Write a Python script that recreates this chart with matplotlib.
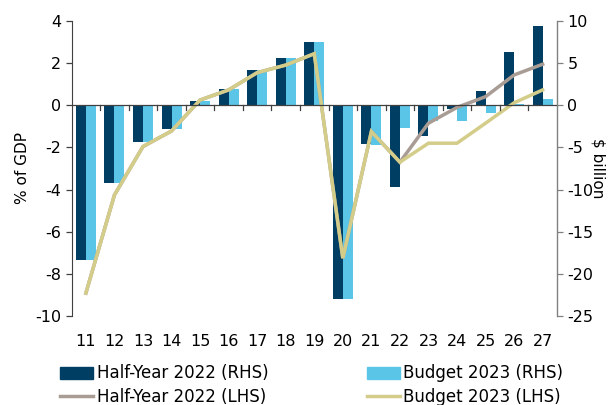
import matplotlib
matplotlib.use("Agg")
import matplotlib.pyplot as plt
import numpy as np
from matplotlib.patches import Patch
from matplotlib.lines import Line2D

years = ["11", "12", "13", "14", "15", "16", "17", "18", "19", "20",
         "21", "22", "23", "24", "25", "26", "27"]
# $ billion (RHS)
hy22_bar = [-18.4, -9.2, -4.4, -2.8, 0.5, 1.9, 4.15, 5.6, 7.5, -23.0,
            -4.6, -9.7, -3.6, -0.45, 1.7, 6.3, 9.4]
b23_bar = [-18.4, -9.2, -4.4, -2.8, 0.5, 1.9, 4.15, 5.6, 7.5, -23.0,
           -4.7, -2.65, -1.9, -1.85, -0.9, 0.15, 0.7]
# % of GDP (LHS)
hy22_line = [-8.92, -4.26, -1.96, -1.22, 0.25, 0.73, 1.55, 1.91, 2.45, -7.26,
             -1.25, -2.7, -0.85, -0.1, 0.41, 1.44, 1.95]
b23_line = [-8.92, -4.26, -1.96, -1.22, 0.25, 0.73, 1.55, 1.91, 2.45, -7.26,
            -1.25, -2.7, -1.8, -1.8, -0.85, 0.12, 0.73]

c_dark = "#003F63"
c_light = "#5BC5E8"
c_hyl = "#A89C94"
c_bl = "#D4CD8A"

plt.rcParams['font.family'] = ['DejaVu Sans']
plt.rcParams['axes.unicode_minus'] = False
fig = plt.figure(figsize=(6.12, 4.05), dpi=100)
ax = fig.add_axes([0.117, 0.220, 0.793, 0.728])
ax2 = ax.twinx()

x = np.arange(len(years))
w = 0.35
ax2.bar(x - w/2, hy22_bar, width=w, color=c_dark, zorder=2)
ax2.bar(x + w/2, b23_bar, width=w, color=c_light, zorder=2)

ax.plot(x, hy22_line, color=c_hyl, lw=2.5, zorder=3, solid_joinstyle='miter')
ax.plot(x, b23_line, color=c_bl, lw=2.5, zorder=4, solid_joinstyle='miter')

ax.set_zorder(ax2.get_zorder() + 1)
ax.patch.set_visible(False)

ax.set_xlim(-0.5, len(years) - 0.5)
ax.set_ylim(-10, 4)
ax2.set_ylim(-25, 10)
ax.set_yticks(np.arange(-10, 5, 2))
ax2.set_yticks(np.arange(-25, 11, 5))

# zero line with ticks between categories
ax.axhline(0, color="#404040", lw=0.9, zorder=5)
for b in np.arange(0.5, len(years) - 0.5, 1):
    ax.plot([b, b], [0, -0.2], color="#404040", lw=0.9, zorder=5)

ax.set_xticks(x)
ax.set_xticklabels(years)
ax.tick_params(axis='x', length=0, labelsize=11.5, pad=13)
ax.tick_params(axis='y', labelsize=11.5, color="#404040", length=4, width=0.9)
ax2.tick_params(axis='y', labelsize=11.5, color="#808080", length=4, width=0.9)

for s in ["top", "right", "bottom"]:
    ax.spines[s].set_visible(False)
for s in ["top", "left", "bottom"]:
    ax2.spines[s].set_visible(False)
ax.spines["left"].set_color("#404040")
ax2.spines["right"].set_color("#808080")
ax2.spines["right"].set_linewidth(1.0)

ax.set_ylabel("% of GDP", fontsize=11, labelpad=4)
ax2.set_ylabel("$ billion", fontsize=11, rotation=270, labelpad=9)

handles = [Patch(color=c_dark), Patch(color=c_light),
           Line2D([], [], color=c_hyl, lw=2.5), Line2D([], [], color=c_bl, lw=2.5)]
labels = ["Half-Year 2022 (RHS)", "Budget 2023 (RHS)",
          "Half-Year 2022 (LHS)", "Budget 2023 (LHS)"]
order = [0, 2, 1, 3]
fig.legend([handles[i] for i in order], [labels[i] for i in order],
           loc="upper left", bbox_to_anchor=(0.098, 0.100), ncol=2, frameon=False,
           fontsize=12, handlelength=2.0, handletextpad=0.2, columnspacing=5.9,
           labelspacing=0.3, borderaxespad=0, borderpad=0)

fig.savefig("out.png", dpi=100)
